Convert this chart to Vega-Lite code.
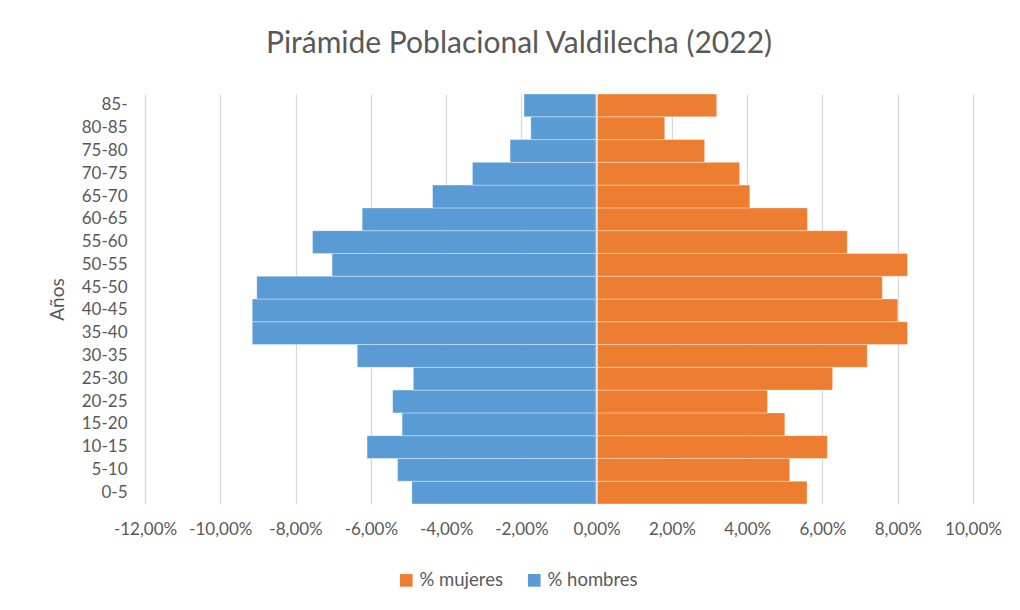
{
  "$schema": "https://vega.github.io/schema/vega-lite/v6.json",
  "width": 828,
  "height": 410,
  "autosize": {"type": "none"},
  "padding": {"left": 145, "top": 94, "right": 47, "bottom": 106},
  "background": "white",
  "config": {
    "locale": {"number": {"decimal": ",", "thousands": ".", "grouping": [3], "currency": ["", " €"], "minus": "-"}},
    "view": {"stroke": null},
    "font": "Lato"
  },
  "title": {
    "text": "Pirámide Poblacional Valdilecha (2022)",
    "fontSize": 30,
    "fontWeight": "normal",
    "color": "#595959",
    "font": "Lato",
    "anchor": "middle",
    "dx": -40,
    "offset": 34
  },
  "data": {
    "values": [
      {"edad": "0-5", "sexo": "% hombres", "valor": -0.0491},
      {"edad": "5-10", "sexo": "% hombres", "valor": -0.0529},
      {"edad": "10-15", "sexo": "% hombres", "valor": -0.0610},
      {"edad": "15-20", "sexo": "% hombres", "valor": -0.0517},
      {"edad": "20-25", "sexo": "% hombres", "valor": -0.0542},
      {"edad": "25-30", "sexo": "% hombres", "valor": -0.0487},
      {"edad": "30-35", "sexo": "% hombres", "valor": -0.0636},
      {"edad": "35-40", "sexo": "% hombres", "valor": -0.0915},
      {"edad": "40-45", "sexo": "% hombres", "valor": -0.0915},
      {"edad": "45-50", "sexo": "% hombres", "valor": -0.0903},
      {"edad": "50-55", "sexo": "% hombres", "valor": -0.0703},
      {"edad": "55-60", "sexo": "% hombres", "valor": -0.0755},
      {"edad": "60-65", "sexo": "% hombres", "valor": -0.0623},
      {"edad": "65-70", "sexo": "% hombres", "valor": -0.0436},
      {"edad": "70-75", "sexo": "% hombres", "valor": -0.0330},
      {"edad": "75-80", "sexo": "% hombres", "valor": -0.0230},
      {"edad": "80-85", "sexo": "% hombres", "valor": -0.0175},
      {"edad": "85-", "sexo": "% hombres", "valor": -0.0193},
      {"edad": "0-5", "sexo": "% mujeres", "valor": 0.0559},
      {"edad": "5-10", "sexo": "% mujeres", "valor": 0.0513},
      {"edad": "10-15", "sexo": "% mujeres", "valor": 0.0613},
      {"edad": "15-20", "sexo": "% mujeres", "valor": 0.0500},
      {"edad": "20-25", "sexo": "% mujeres", "valor": 0.0454},
      {"edad": "25-30", "sexo": "% mujeres", "valor": 0.0627},
      {"edad": "30-35", "sexo": "% mujeres", "valor": 0.0719},
      {"edad": "35-40", "sexo": "% mujeres", "valor": 0.0826},
      {"edad": "40-45", "sexo": "% mujeres", "valor": 0.0800},
      {"edad": "45-50", "sexo": "% mujeres", "valor": 0.0759},
      {"edad": "50-55", "sexo": "% mujeres", "valor": 0.0826},
      {"edad": "55-60", "sexo": "% mujeres", "valor": 0.0666},
      {"edad": "60-65", "sexo": "% mujeres", "valor": 0.0560},
      {"edad": "65-70", "sexo": "% mujeres", "valor": 0.0407},
      {"edad": "70-75", "sexo": "% mujeres", "valor": 0.0380},
      {"edad": "75-80", "sexo": "% mujeres", "valor": 0.0287},
      {"edad": "80-85", "sexo": "% mujeres", "valor": 0.0181},
      {"edad": "85-", "sexo": "% mujeres", "valor": 0.0319}
    ]
  },
  "layer": [
    {
      "mark": {"type": "bar", "stroke": "white", "strokeWidth": 0.6, "strokeOpacity": 0.6},
      "encoding": {
        "y": {
          "field": "edad",
          "type": "nominal",
          "sort": ["85-", "80-85", "75-80", "70-75", "65-70", "60-65", "55-60", "50-55", "45-50", "40-45", "35-40", "30-35", "25-30", "20-25", "15-20", "10-15", "5-10", "0-5"],
          "scale": {"paddingInner": 0, "paddingOuter": 0},
          "title": "Años",
          "axis": {
            "domain": false,
            "ticks": false,
            "labelFontSize": 17,
            "labelColor": "#595959",
            "labelFont": "Lato",
            "labelPadding": 18,
            "titleFontSize": 19,
            "titleFontWeight": "normal",
            "titleColor": "#595959",
            "titleFont": "Lato",
            "titlePadding": 14
          }
        },
        "x": {
          "field": "valor",
          "type": "quantitative",
          "stack": null,
          "scale": {"domain": [-0.12, 0.10], "nice": false},
          "title": null,
          "axis": {
            "format": ".2%",
            "values": [-0.12, -0.10, -0.08, -0.06, -0.04, -0.02, 0, 0.02, 0.04, 0.06, 0.08, 0.10],
            "labelOverlap": false,
            "labelFlush": false,
            "domain": false,
            "ticks": false,
            "grid": true,
            "gridColor": "#d9d9d9",
            "gridWidth": 1.3,
            "labelFontSize": 17,
            "labelColor": "#595959",
            "labelFont": "Lato",
            "labelPadding": 17
          }
        },
        "color": {
          "field": "sexo",
          "type": "nominal",
          "scale": {"domain": ["% mujeres", "% hombres"], "range": ["#ED7D31", "#5B9BD5"]},
          "title": null,
          "legend": {
            "orient": "none",
            "legendX": 252,
            "legendY": 477,
            "direction": "horizontal",
            "symbolType": "square",
            "symbolSize": 160,
            "symbolStrokeWidth": 0,
            "labelFontSize": 18.5,
            "labelColor": "#595959",
            "labelFont": "Lato",
            "columnPadding": 22,
            "labelOffset": 4
          }
        }
      }
    },
    {
      "mark": {"type": "rule", "color": "#d9d9d9", "strokeWidth": 1.3},
      "encoding": {"x": {"datum": 0}}
    }
  ]
}
